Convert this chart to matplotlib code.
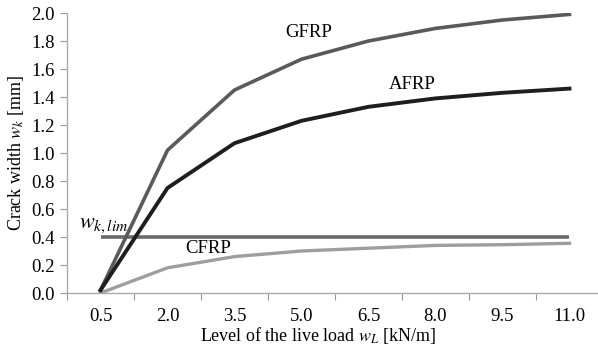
import matplotlib
matplotlib.use("Agg")
import matplotlib.pyplot as plt
import numpy as np

categories = ["0.5", "2.0", "3.5", "5.0", "6.5", "8.0", "9.5", "11.0"]
gfrp = [0.02, 1.02, 1.45, 1.67, 1.80, 1.89, 1.95, 1.99]
afrp = [0.02, 0.75, 1.07, 1.23, 1.33, 1.39, 1.43, 1.46]
cfrp = [0.00, 0.18, 0.26, 0.30, 0.32, 0.34, 0.345, 0.355]
wk_lim = [0.40] * len(categories)
yticks = [0.0, 0.2, 0.4, 0.6, 0.8, 1.0, 1.2, 1.4, 1.6, 1.8, 2.0]

plt.rcParams['font.family'] = ['Liberation Serif', 'DejaVu Serif']
plt.rcParams['mathtext.fontset'] = 'stix'

fig = plt.figure(figsize=(5.98, 3.46), dpi=100)
W, H = 598, 346
left, right, top, bottom = 67, 603, 13, 293
ax = fig.add_axes([left / W, 1 - bottom / H, (right - left) / W, (bottom - top) / H])

x = np.arange(len(categories)) + 0.5
ax.plot(x, wk_lim, color="#6a6a6a", lw=2.6, solid_capstyle='butt')
ax.plot(x, cfrp, color="#9e9e9e", lw=2.4)
ax.plot(x, gfrp, color="#5a5a5a", lw=2.6)
ax.plot(x, afrp, color="#1e1e1e", lw=2.8)

ax.set_xlim(0, len(categories))
ax.set_ylim(0, 2.0)
ax.set_yticks(yticks)
ax.set_yticklabels([f"{v:.1f}" for v in yticks], fontsize=13.5)
ax.set_xticks(np.arange(0, len(categories) + 1))
ax.set_xticklabels([])
ax.set_xticks(x, minor=True)
ax.set_xticklabels(categories, minor=True, fontsize=13.5)
ax.tick_params(axis='x', which='minor', length=0, pad=11)
ax.tick_params(axis='x', which='major', length=5, color="#999999", direction='out')
ax.tick_params(axis='y', length=5, color="#999999", direction='out', pad=4)
for s in ['top', 'right']:
    ax.spines[s].set_visible(False)
for s in ['left', 'bottom']:
    ax.spines[s].set_color("#aaaaaa")
    ax.spines[s].set_linewidth(1.0)

ax.set_ylabel(r"Crack width $w_k$ [mm]", fontsize=13)
ax.yaxis.set_label_coords(-(left - 16) / (right - left), 0.5)
ax.yaxis.label.set_va('center')
ax.set_xlabel(r"Level of the live load $w_L$ [kN/m]", fontsize=13)
ax.xaxis.set_label_coords((318 - left) / (right - left), -(336 - bottom) / (bottom - top))
ax.xaxis.label.set_va('center')

ax.text(3.6, 1.86, "GFRP", fontsize=13.5, ha='center', va='center')
ax.text(5.15, 1.49, "AFRP", fontsize=13.5, ha='center', va='center')
ax.text(2.1, 0.32, "CFRP", fontsize=13.5, ha='center', va='center')
ax.text(0.55, 0.48, r"$w_{k,lim}$", fontsize=16, ha='center', va='center')

fig.savefig("out.png", dpi=100)
